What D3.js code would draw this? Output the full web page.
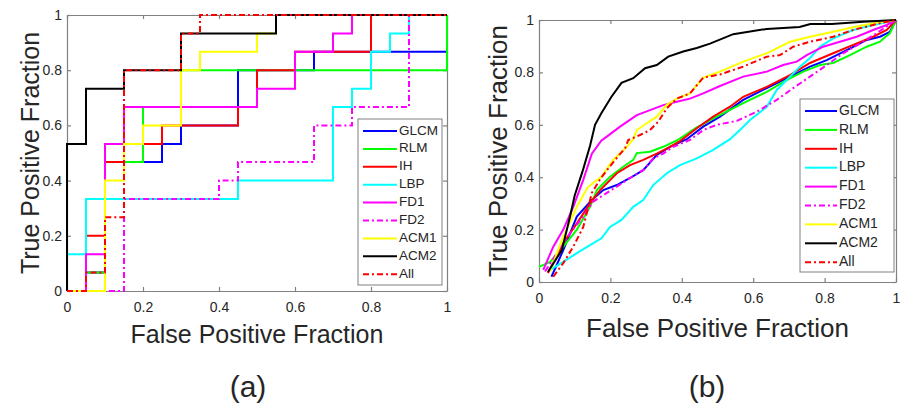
<!DOCTYPE html>
<html>
<head>
<meta charset="utf-8">
<script src="https://cdn.jsdelivr.net/npm/d3@7"></script>
<style>
body{margin:0;background:#fff;}
svg text{font-family:"Liberation Sans",Arial,Helvetica,sans-serif;fill:#262626;}
</style>
</head>
<body>
<svg id="chart" width="903" height="406"></svg>
<script>
// series names and axis ticks
const names = ["GLCM","RLM","IH","LBP","FD1","FD2","ACM1","ACM2","All"];
const tickVals = [0,0.2,0.4,0.6,0.8,1];
const tickLabels = ["0","0.2","0.4","0.6","0.8","1"];

// (a) step ROC curves, [fpr, tpr] corner points
const glcmA = [[0,0],[0.05,0],[0.05,0.067],[0.1,0.067],[0.1,0.467],[0.25,0.467],[0.25,0.533],[0.3,0.533],[0.3,0.6],[0.45,0.6],[0.45,0.8],[0.65,0.8],[0.65,0.867],[1,0.867],[1,1]];
const rlmA = [[0,0],[0.05,0],[0.05,0.067],[0.1,0.067],[0.1,0.467],[0.2,0.467],[0.2,0.667],[0.3,0.667],[0.3,0.8],[1,0.8],[1,1]];
const ihA = [[0,0],[0.05,0],[0.05,0.2],[0.1,0.2],[0.1,0.467],[0.15,0.467],[0.15,0.533],[0.25,0.533],[0.25,0.6],[0.45,0.6],[0.45,0.667],[0.5,0.667],[0.5,0.8],[0.6,0.8],[0.6,0.867],[0.8,0.867],[0.8,1],[1,1]];
const lbpA = [[0,0],[0,0.133],[0.05,0.133],[0.05,0.333],[0.45,0.333],[0.45,0.4],[0.7,0.4],[0.7,0.667],[0.75,0.667],[0.75,0.733],[0.8,0.733],[0.8,0.867],[0.85,0.867],[0.85,0.933],[0.9,0.933],[0.9,1],[1,1]];
const fd1A = [[0,0],[0.05,0],[0.05,0.133],[0.1,0.133],[0.1,0.533],[0.15,0.533],[0.15,0.667],[0.5,0.667],[0.5,0.733],[0.6,0.733],[0.6,0.867],[0.7,0.867],[0.7,0.933],[0.75,0.933],[0.75,1],[1,1]];
const fd2A = [[0,0],[0.15,0],[0.15,0.333],[0.4,0.333],[0.4,0.4],[0.45,0.4],[0.45,0.467],[0.65,0.467],[0.65,0.6],[0.75,0.6],[0.75,0.667],[0.9,0.667],[0.9,1],[1,1]];
const acm1A = [[0,0],[0.1,0],[0.1,0.4],[0.15,0.4],[0.15,0.533],[0.2,0.533],[0.2,0.6],[0.3,0.6],[0.3,0.8],[0.35,0.8],[0.35,0.867],[0.5,0.867],[0.5,0.933],[0.55,0.933],[0.55,1],[1,1]];
const acm2A = [[0,0],[0,0.533],[0.05,0.533],[0.05,0.733],[0.15,0.733],[0.15,0.8],[0.3,0.8],[0.3,0.933],[0.55,0.933],[0.55,1],[1,1]];
const allA = [[0,0],[0.05,0],[0.05,0.067],[0.1,0.067],[0.1,0.267],[0.15,0.267],[0.15,0.8],[0.3,0.8],[0.3,0.933],[0.35,0.933],[0.35,1],[1,1]];

// (b) smooth ROC curves, [fpr, tpr]
const glcmB = [[0.035,0.02],[0.068,0.122],[0.106,0.25],[0.148,0.313],[0.18,0.351],[0.218,0.37],[0.255,0.397],[0.292,0.427],[0.33,0.485],[0.367,0.516],[0.414,0.545],[0.46,0.593],[0.507,0.631],[0.572,0.695],[0.638,0.74],[0.703,0.784],[0.759,0.822],[0.806,0.847],[0.862,0.885],[0.918,0.924],[0.955,0.936],[0.983,0.955],[1,1]];
const rlmB = [[0,0.058],[0.031,0.077],[0.068,0.135],[0.106,0.2],[0.143,0.287],[0.162,0.351],[0.199,0.402],[0.236,0.44],[0.264,0.466],[0.274,0.492],[0.311,0.497],[0.348,0.516],[0.386,0.54],[0.442,0.59],[0.498,0.631],[0.572,0.683],[0.638,0.726],[0.694,0.771],[0.74,0.803],[0.787,0.828],[0.824,0.836],[0.871,0.866],[0.918,0.898],[0.955,0.917],[0.983,0.95],[1,1]];
const ihB = [[0.025,0.034],[0.068,0.148],[0.106,0.224],[0.143,0.3],[0.171,0.351],[0.218,0.415],[0.255,0.446],[0.292,0.466],[0.33,0.49],[0.367,0.516],[0.395,0.538],[0.442,0.587],[0.488,0.631],[0.535,0.669],[0.572,0.707],[0.638,0.745],[0.703,0.79],[0.759,0.836],[0.824,0.873],[0.88,0.905],[0.936,0.936],[0.974,0.962],[1,1]];
const lbpB = [[0.031,0.046],[0.068,0.077],[0.106,0.11],[0.143,0.141],[0.175,0.167],[0.199,0.21],[0.231,0.237],[0.264,0.287],[0.292,0.313],[0.32,0.37],[0.358,0.415],[0.395,0.446],[0.442,0.472],[0.488,0.504],[0.535,0.545],[0.568,0.587],[0.591,0.618],[0.638,0.669],[0.666,0.733],[0.694,0.771],[0.731,0.822],[0.759,0.855],[0.787,0.898],[0.824,0.93],[0.88,0.962],[0.936,0.981],[1,1]];
const fd1B = [[0.012,0.046],[0.04,0.135],[0.068,0.2],[0.096,0.287],[0.124,0.39],[0.148,0.49],[0.175,0.54],[0.19,0.555],[0.227,0.593],[0.274,0.637],[0.311,0.656],[0.348,0.675],[0.386,0.688],[0.423,0.7],[0.46,0.72],[0.507,0.748],[0.572,0.784],[0.638,0.803],[0.684,0.828],[0.722,0.841],[0.75,0.866],[0.796,0.898],[0.843,0.917],[0.89,0.936],[0.936,0.962],[0.974,0.981],[1,1]];
const fd2B = [[0.017,0.04],[0.05,0.11],[0.087,0.186],[0.124,0.25],[0.152,0.307],[0.19,0.34],[0.218,0.364],[0.255,0.397],[0.292,0.427],[0.32,0.472],[0.348,0.49],[0.376,0.516],[0.423,0.542],[0.46,0.58],[0.498,0.6],[0.554,0.615],[0.61,0.65],[0.666,0.695],[0.712,0.74],[0.759,0.784],[0.806,0.828],[0.852,0.873],[0.9,0.911],[0.946,0.95],[1,1]];
const acm1B = [[0.031,0.04],[0.068,0.173],[0.106,0.287],[0.138,0.364],[0.175,0.402],[0.208,0.466],[0.246,0.516],[0.264,0.545],[0.274,0.58],[0.302,0.606],[0.33,0.631],[0.358,0.676],[0.386,0.7],[0.423,0.72],[0.46,0.78],[0.507,0.803],[0.572,0.841],[0.638,0.873],[0.703,0.917],[0.759,0.936],[0.824,0.955],[0.89,0.975],[0.946,0.99],[1,1]];
const acm2B = [[0.025,0.038],[0.064,0.122],[0.087,0.25],[0.1,0.33],[0.123,0.427],[0.143,0.52],[0.157,0.6],[0.175,0.645],[0.203,0.707],[0.231,0.76],[0.264,0.778],[0.297,0.816],[0.33,0.828],[0.362,0.86],[0.404,0.88],[0.442,0.893],[0.479,0.91],[0.544,0.946],[0.638,0.966],[0.73,0.973],[0.76,0.985],[0.82,0.985],[0.908,0.993],[1,1]];
const allB = [[0.04,0.02],[0.068,0.072],[0.096,0.135],[0.124,0.21],[0.148,0.34],[0.175,0.4],[0.213,0.466],[0.241,0.51],[0.25,0.542],[0.283,0.561],[0.311,0.58],[0.334,0.612],[0.358,0.663],[0.386,0.7],[0.423,0.72],[0.46,0.78],[0.507,0.792],[0.572,0.822],[0.638,0.86],[0.675,0.866],[0.712,0.898],[0.759,0.917],[0.824,0.936],[0.88,0.962],[0.946,0.985],[1,1]];

const seriesA = [glcmA,rlmA,ihA,lbpA,fd1A,fd2A,acm1A,acm2A,allA];
const seriesB = [glcmB,rlmB,ihB,lbpB,fd1B,fd2B,acm1B,acm2B,allB];

// line styles
const colors = ["#0000ff","#00ff00","#ff0000","#00ffff","#ff00ff","#ff00ff","#ffff00","#000000","#ff0000"];
const dashes = [null,null,null,null,null,"6,3,2,3",null,null,"6,3,2,3"];

const svg = d3.select("#chart");
svg.append("rect").attr("width",903).attr("height",406).attr("fill","#fff");

function drawPanel(series, p){
	const x = d3.scaleLinear().domain([0,1]).range([p.l,p.r]);
	const y = d3.scaleLinear().domain([0,1]).range([p.b,p.t]);
	const g = svg.append("g");

	//坐标轴, ticks pointing inward on all four sides
	const axes = [
		[d3.axisBottom(x).tickFormat((d,i)=>tickLabels[i]).tickPadding(p.padX),`translate(0,${p.b})`],
		[d3.axisTop(x).tickFormat(""),`translate(0,${p.t})`],
		[d3.axisLeft(y).tickFormat((d,i)=>tickLabels[i]).tickPadding(5),`translate(${p.l},0)`],
		[d3.axisRight(y).tickFormat(""),`translate(${p.r},0)`]
	];
	axes.forEach(a=>{
		const ax = g.append("g")
			.attr("transform",a[1])
			.call(a[0].tickValues(tickVals).tickSize(-4).tickSizeOuter(0));
		ax.selectAll("path,line").attr("stroke","#808080").attr("stroke-width",1.2);
		ax.selectAll("text").attr("font-size",p.tickFont).attr("fill","#262626");
	});

	//画曲线
	const line = d3.line().x(d=>x(d[0])).y(d=>y(d[1]));
	series.forEach((s,i)=>{
		g.append("path")
			.attr("d",line(s))
			.attr("fill","none")
			.attr("stroke",colors[i])
			.attr("stroke-width",2)
			.attr("stroke-dasharray",dashes[i]);
	});

	//图例
	const lg = g.append("g");
	lg.append("rect")
		.attr("x",p.lgX).attr("y",p.lgY)
		.attr("width",p.lgW).attr("height",p.lgH)
		.attr("fill","#fff").attr("stroke","#808080").attr("stroke-width",1);
	names.forEach((n,i)=>{
		const yy = p.lgY + p.lgFirst + i*p.lgStep;
		lg.append("line")
			.attr("x1",p.lgX+5).attr("x2",p.lgX+5+p.lgLine)
			.attr("y1",yy).attr("y2",yy)
			.attr("stroke",colors[i]).attr("stroke-width",2)
			.attr("stroke-dasharray",dashes[i]);
		lg.append("text")
			.attr("x",p.lgX+7+p.lgLine).attr("y",yy)
			.attr("dominant-baseline","middle")
			.attr("font-size",p.lgFont)
			.text(n);
	});

	//坐标轴标题
	g.append("text")
		.attr("x",(p.l+p.r)/2).attr("y",p.xTitleY)
		.attr("text-anchor","middle")
		.attr("font-size",p.titleFont)
		.text("False Positive Fraction");
	g.append("text")
		.attr("transform",`translate(${p.yTitleX},${(p.t+p.b)/2}) rotate(-90)`)
		.attr("text-anchor","middle")
		.attr("font-size",p.titleFont)
		.text("True Positive Fraction");
	g.append("text")
		.attr("x",p.capX).attr("y",397)
		.attr("text-anchor","middle")
		.attr("font-size",30)
		.text(p.cap);
}

drawPanel(seriesA,{l:67,r:447,t:15,b:291,padX:11,tickFont:14,
	lgX:358,lgY:119,lgW:84,lgH:166,lgFirst:12,lgStep:17.9,lgLine:34,lgFont:13.5,
	xTitleY:343,yTitleX:39,titleFont:25,capX:248,cap:"(a)"});
drawPanel(seriesB,{l:539,r:896,t:20,b:282,padX:11,tickFont:14,
	lgX:800,lgY:99,lgW:94,lgH:173,lgFirst:12,lgStep:18.9,lgLine:32,lgFont:14,
	xTitleY:337,yTitleX:507,titleFont:26,capX:707,cap:"(b)"});
</script>
</body>
</html>
